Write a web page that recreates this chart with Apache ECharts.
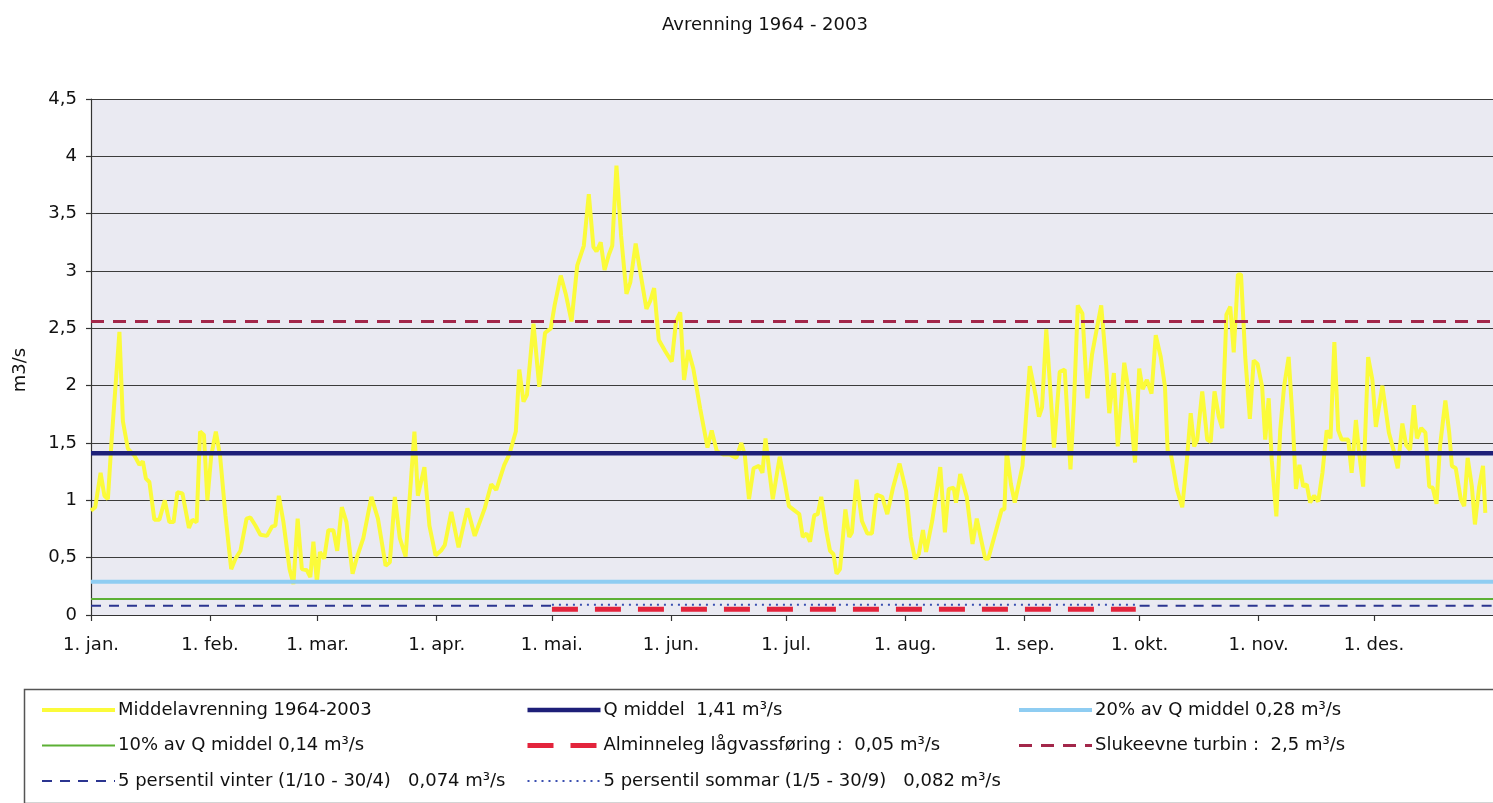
<!DOCTYPE html>
<html>
<head>
<meta charset="utf-8">
<script src="https://cdn.jsdelivr.net/npm/echarts@6/dist/echarts.min.js"></script>
<style>
  html, body { margin: 0; padding: 0; background: #ffffff; }
  #chart { width: 1493px; height: 803px; }
</style>
</head>
<body>
<div id="chart"></div>
<script>
// ---- data ----
const chartTitle = 'Avrenning 1964 - 2003';
const yAxisName = 'm3/s';

// month starts (day of year, 0 = 1. jan.) and their labels
const monthStartDays = [0, 31, 59, 90, 120, 151, 181, 212, 243, 273, 304, 334];
const monthLabels = ['1. jan.', '1. feb.', '1. mar.', '1. apr.', '1. mai.', '1. jun.',
                     '1. jul.', '1. aug.', '1. sep.', '1. okt.', '1. nov.', '1. des.'];

// Middelavrenning 1964-2003 (day of year, m3/s)
const flowDays = [
  0, 1.1, 2.5, 3.5, 4.4, 5.4, 7.4, 8.3, 9.6, 11.3, 12.6, 13.5, 14.3, 15.2, 16.5, 17.8, 19.2, 20.4, 21.5, 22.5,
  23.8, 25.5, 26.4, 27.5, 28.4, 29.4, 30.3, 31.3, 32.5, 33.6, 35.0, 36.5, 37.6, 38.9, 40.5, 41.5, 42.8, 44.1, 45.8, 47.1,
  48.0, 48.9, 50.1, 51.7, 52.7, 53.8, 54.9, 56.2, 57.1, 57.9, 58.8, 59.6, 60.7, 61.8, 63.1, 64.1, 65.3, 66.5, 68.1, 69.3,
  70.9, 73.0, 74.7, 76.7, 77.8, 79.1, 80.4, 81.9, 82.9, 84.2, 85.1, 86.8, 88.1, 89.7, 91.1,
  92.1, 93.8, 95.7, 98.0, 99.9, 102.5, 104.2, 105.5, 107.6, 108.9, 110.6, 111.5, 112.6, 113.5, 115.2, 116.7, 118.2, 119.7, 120.7, 122.3,
  123.6, 125.1, 126.6, 128.3, 129.6, 130.8, 131.6, 132.7, 133.7, 134.8, 135.7, 136.8, 138.0, 139.4, 140.4, 141.8, 143.0, 144.6, 145.6, 146.6,
  147.8, 149.5, 151.2, 152.3, 153.4, 154.4, 155.5, 156.8, 158.6, 160.5, 161.6, 162.9, 164.6, 166.3, 168.0, 169.3, 170.2, 171.3, 172.5, 173.9,
  174.8, 175.6, 176.5, 177.5, 179.3, 180.6, 181.7,
  183.2, 184.4, 185.3, 186.3, 187.2, 188.3, 189.2, 190.1, 191.4, 192.4, 193.3, 194.1, 195.0, 196.4, 197.4, 198.1, 199.3, 200.7, 202.1, 203.3,
  204.5, 206.0, 207.3, 208.8, 210.5, 212.2, 213.4, 214.5, 215.5, 216.6, 217.4, 219.0, 221.1, 222.3, 223.3, 224.6, 225.2, 226.3, 228.0, 229.5,
  230.6, 232.8, 233.6, 235.4, 237.1, 237.8, 238.4, 239.5, 240.5, 242.5, 244.4, 245.9, 246.8, 247.6, 248.7, 249.9, 250.7, 252.2, 253.5, 255.0,
  255.9, 256.9, 258.1, 259.4, 260.6, 261.7, 263.0, 264.3, 265.1, 266.3, 267.3, 269.0, 270.3, 271.8,
  272.9, 273.8, 274.9, 276.1, 277.2, 278.5, 279.6, 280.3, 281.1, 282.7, 284.1, 285.3, 286.3, 287.2, 288.0, 289.3, 290.6, 291.5, 292.5, 293.6,
  294.5, 295.6, 296.6, 297.5, 298.6, 299.4, 300.5, 301.7, 302.7, 303.7, 304.9, 305.7, 306.6, 307.4, 308.6, 309.6, 310.6, 311.8, 312.9, 313.7,
  314.6, 315.6, 316.5, 317.4, 318.4, 319.5, 320.6, 321.7, 322.7, 323.7, 324.7, 325.6, 327.3, 328.2, 329.3, 330.1, 331.2, 332.5, 333.6, 334.5,
  336.2, 337.9, 339.1, 340.2, 341.4, 342.4, 343.4, 344.4, 345.2, 346.3, 347.4, 348.4, 349.3, 350.3, 351.2, 352.6, 353.6, 354.3, 355.3, 356.6,
  357.5, 358.4, 359.5, 360.3, 361.4, 362.4, 363.0
];
const flowValues = [
  0.91, 0.94, 1.24, 1.04, 1.01, 1.54, 2.47, 1.69, 1.45, 1.39, 1.31, 1.34, 1.19, 1.16, 0.83, 0.83, 1.00, 0.81, 0.81, 1.07,
  1.06, 0.76, 0.83, 0.81, 1.60, 1.57, 1.00, 1.39, 1.60, 1.39, 0.87, 0.40, 0.49, 0.56, 0.84, 0.85, 0.78, 0.70, 0.69, 0.77,
  0.78, 1.04, 0.81, 0.40, 0.27, 0.84, 0.40, 0.39, 0.33, 0.64, 0.29, 0.55, 0.49, 0.74, 0.74, 0.56, 0.94, 0.81, 0.36, 0.51,
  0.67, 1.03, 0.84, 0.43, 0.46, 1.03, 0.67, 0.51, 0.99, 1.60, 1.04, 1.29, 0.78, 0.52, 0.56,
  0.61, 0.90, 0.59, 0.93, 0.69, 0.93, 1.14, 1.09, 1.31, 1.40, 1.60, 2.14, 1.86, 1.92, 2.54, 1.99, 2.46, 2.50, 2.70, 2.96,
  2.80, 2.56, 3.05, 3.22, 3.67, 3.21, 3.17, 3.25, 3.01, 3.14, 3.22, 3.92, 3.31, 2.80, 2.90, 3.24, 2.99, 2.67, 2.74, 2.85,
  2.40, 2.30, 2.21, 2.56, 2.64, 2.05, 2.31, 2.15, 1.80, 1.46, 1.61, 1.43, 1.40, 1.40, 1.37, 1.50, 1.40, 1.01, 1.28, 1.30,
  1.24, 1.54, 1.28, 1.01, 1.38, 1.16, 0.95,
  0.91, 0.88, 0.68, 0.71, 0.64, 0.87, 0.88, 1.03, 0.74, 0.56, 0.53, 0.36, 0.40, 0.92, 0.68, 0.72, 1.18, 0.82, 0.71, 0.71,
  1.05, 1.03, 0.88, 1.11, 1.32, 1.08, 0.68, 0.49, 0.53, 0.74, 0.55, 0.82, 1.29, 0.72, 1.10, 1.11, 0.98, 1.23, 1.03, 0.62,
  0.84, 0.49, 0.49, 0.71, 0.92, 0.92, 1.43, 1.14, 0.98, 1.30, 2.17, 1.92, 1.73, 1.81, 2.49, 1.89, 1.46, 2.12, 2.14, 1.27,
  1.84, 2.70, 2.63, 1.89, 2.27, 2.47, 2.70, 2.18, 1.76, 2.11, 1.47, 2.20, 1.92, 1.33,
  2.15, 1.97, 2.05, 1.93, 2.44, 2.25, 1.99, 1.43, 1.41, 1.10, 0.94, 1.35, 1.76, 1.47, 1.53, 1.95, 1.53, 1.51, 1.95, 1.73,
  1.63, 2.62, 2.69, 2.29, 2.97, 2.97, 2.25, 1.71, 2.22, 2.19, 1.99, 1.53, 1.89, 1.35, 0.86, 1.61, 1.99, 2.25, 1.67, 1.10,
  1.31, 1.12, 1.14, 0.98, 1.04, 0.99, 1.24, 1.61, 1.54, 2.38, 1.61, 1.53, 1.53, 1.24, 1.70, 1.43, 1.12, 2.25, 2.05, 1.64,
  2.00, 1.59, 1.44, 1.28, 1.67, 1.48, 1.44, 1.83, 1.54, 1.63, 1.59, 1.12, 1.11, 0.97, 1.47, 1.87, 1.59, 1.30, 1.28, 1.01,
  0.95, 1.37, 1.12, 0.79, 1.12, 1.30, 0.89
];

// reference levels as drawn in the picture (m3/s)
const qMiddel = 1.41;
const pct20 = 0.29;
const pct10 = 0.14;
const lavvass = 0.05;
const slukeevne = 2.56;
const persVinter = 0.08;
const persSommar = 0.09;

// periods (day of year)
const fullYear = [[0, 365]];
const winterPeriods = [[0, 120], [273, 365]];
const summerPeriods = [[120, 273]];
const lavvassPeriods = [[120, 272]];

// series names (legend)
const names = {
  flow: 'Middelavrenning 1964-2003',
  q: 'Q middel  1,41 m³/s',
  p20: '20% av Q middel 0,28 m³/s',
  p10: '10% av Q middel 0,14 m³/s',
  lav: 'Alminneleg lågvassføring :  0,05 m³/s',
  sluk: 'Slukeevne turbin :  2,5 m³/s',
  vinter: '5 persentil vinter (1/10 - 30/4)   0,074 m³/s',
  sommar: '5 persentil sommar (1/5 - 30/9)   0,082 m³/s'
};

// ---- build ----
const FONT = 'DejaVu Sans';
const flowData = flowDays.map((d, i) => [d, flowValues[i]]);

function levelData(periods, value) {
  const out = [];
  periods.forEach((p, i) => {
    if (i > 0) out.push([p[0], null]);
    out.push([p[0], value]);
    out.push([p[1], value]);
  });
  return out;
}

const styles = {
  flow:   { color: '#fbfb3a', width: 4 },
  q:      { color: '#1d1f78', width: 4.5 },
  p20:    { color: '#8fcdf2', width: 4 },
  p10:    { color: '#5cb035', width: 2 },
  lav:    { color: '#e3243c', width: 5, type: [26, 17] },
  sluk:   { color: '#a3274a', width: 3, type: [13, 9] },
  vinter: { color: '#2b3590', width: 2, type: [10, 8] },
  sommar: { color: '#3a4fb0', width: 2, type: [2, 5] }
};

function lineSeries(key, data) {
  const s = styles[key];
  return {
    name: names[key], type: 'line', data, symbol: 'none', showSymbol: false,
    connectNulls: false, animation: false, silent: true,
    lineStyle: { color: s.color, width: s.width, type: s.type || 'solid', cap: 'butt' },
    itemStyle: { color: s.color }
  };
}

const series = [
  lineSeries('flow', flowData),
  lineSeries('q', levelData(fullYear, qMiddel)),
  lineSeries('p20', levelData(fullYear, pct20)),
  lineSeries('p10', levelData(fullYear, pct10)),
  lineSeries('lav', levelData(lavvassPeriods, lavvass)),
  lineSeries('sluk', levelData(fullYear, slukeevne)),
  lineSeries('vinter', levelData(winterPeriods, persVinter)),
  lineSeries('sommar', levelData(summerPeriods, persSommar))
];

function legendItem(key) {
  const s = styles[key];
  return {
    name: names[key],
    itemStyle: { opacity: 0 },
    lineStyle: { color: s.color, width: s.width, type: s.type || 'solid', opacity: 1, cap: 'butt' }
  };
}

const legendCommon = {
  orient: 'vertical', top: 695, itemWidth: 73, itemHeight: 14, itemGap: 15.5,
  selectedMode: false,
  itemStyle: { opacity: 0 },
  textStyle: { fontFamily: FONT, fontSize: 18, color: '#111', padding: [0, 0, 0, -2], lineHeight: 20 }
};

const chart = echarts.init(document.getElementById('chart'), null, { renderer: 'canvas' });
chart.setOption({
  backgroundColor: '#ffffff',
  animation: false,
  textStyle: { fontFamily: FONT },
  grid: {
    left: 91, top: 99, bottom: 188, right: -8,
    show: true, backgroundColor: '#eaeaf2', borderWidth: 0
  },
  legend: [
    Object.assign({}, legendCommon, { left: 35, data: ['flow', 'p10', 'vinter'].map(legendItem) }),
    Object.assign({}, legendCommon, { left: 520, data: ['q', 'lav', 'sommar'].map(legendItem) }),
    Object.assign({}, legendCommon, { left: 1012, data: ['p20', 'sluk'].map(legendItem) })
  ],
  xAxis: {
    type: 'value', min: 0, max: 365,
    axisLine: { show: true, onZero: false, lineStyle: { color: '#333', width: 1.2 } },
    axisTick: { show: true, customValues: monthStartDays, length: 6, lineStyle: { color: '#333', width: 1.2 } },
    axisLabel: {
      customValues: monthStartDays,
      formatter: v => monthLabels[monthStartDays.indexOf(v)] || '',
      fontFamily: FONT, fontSize: 18, color: '#111', margin: 21
    },
    splitLine: { show: false }
  },
  yAxis: {
    type: 'value', min: 0, max: 4.5, interval: 0.5,
    axisLine: { show: true, lineStyle: { color: '#333', width: 1.2 } },
    axisTick: { show: true, length: 5, lineStyle: { color: '#333', width: 1.2 } },
    axisLabel: {
      fontFamily: FONT, fontSize: 18, color: '#111', margin: 14,
      formatter: v => String(v).replace('.', ',')
    },
    splitLine: { show: true, lineStyle: { color: '#3c3c3c', width: 1.2 } }
  },
  series,
  graphic: [
    {
      type: 'text', left: 662, top: 16, z: 10,
      style: { text: chartTitle, fontFamily: FONT, fontSize: 18, fill: '#111' }
    },
    {
      type: 'text', x: 20, y: 370, rotation: Math.PI / 2, z: 10,
      style: { text: yAxisName, fontFamily: FONT, fontSize: 18, fill: '#111', align: 'center', verticalAlign: 'middle' }
    },
    {
      type: 'rect', left: 22, top: 687, z: -1, silent: true,
      shape: { width: 1490, height: 114 },
      style: { fill: 'none', stroke: '#555', lineWidth: 1.5 }
    }
  ]
});
</script>
</body>
</html>
